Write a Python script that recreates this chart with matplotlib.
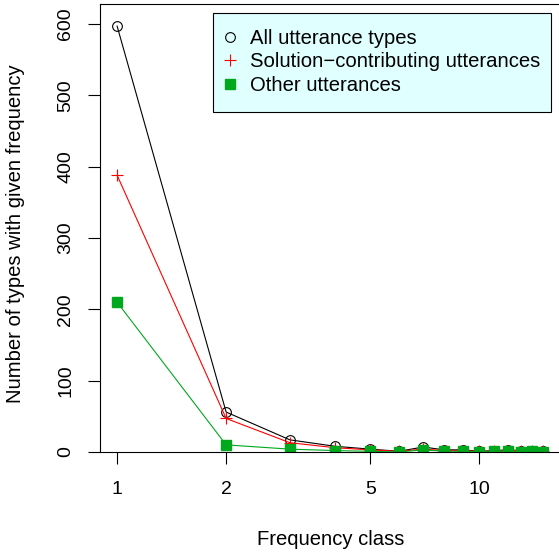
import matplotlib
matplotlib.use('Agg')
from matplotlib import pyplot as plt
from matplotlib.patches import Rectangle

plt.rcParams['font.family'] = ['Liberation Sans', 'DejaVu Sans']

freq_class = [1, 2, 3, 4, 5, 6, 7, 8, 9, 10, 11, 12, 13, 14, 15]
all_types = [597, 56, 17, 8, 4, 1, 7, 3, 3, 1, 2, 3, 2, 2, 1]
solution_contrib = [388, 47, 13, 6, 3, 1, 4, 2, 2, 1, 1, 2, 2, 1, 1]
other_utt = [210, 10, 4, 2, 1, 0, 3, 1, 1, 0, 1, 1, 0, 1, 0]

x_ticks = [1, 2, 5, 10]
y_ticks = [0, 100, 200, 300, 400, 500, 600]

W, H = 559, 552
fig = plt.figure(figsize=(W / 100, H / 100), dpi=100)
ax = fig.add_axes([100 / W, 100 / H, 470 / W, 448 / H])

green = '#00A81E'
ax.plot(freq_class, all_types, color='black', lw=0.8, marker='o', ms=7,
        mfc='none', mec='black', mew=0.8, label='All utterance types')
ax.plot(freq_class, solution_contrib, color='red', lw=0.8, marker='+', ms=9,
        mew=0.8, label='Solution\u2212contributing utterances')
ax.plot(freq_class, other_utt, color=green, lw=0.8, marker='s', ms=7,
        mfc=green, mec=green, label='Other utterances')

ax.set_xscale('log')
ax.set_xlim(0.897, 17.8)
ax.set_ylim(0, 628)
ax.set_xticks(x_ticks)
ax.set_xticklabels([str(t) for t in x_ticks])
ax.minorticks_off()
ax.set_yticks(y_ticks)
ax.set_yticklabels([str(t) for t in y_ticks], rotation=90, va='center')
ax.tick_params(direction='out', length=8.6, width=0.8, labelsize=14)
ax.tick_params(axis='x', pad=12)
ax.tick_params(axis='y', pad=10)
for s in ax.spines.values():
    s.set_linewidth(0.8)

# axis titles placed in pixel terms
fig.text(331 / W, 1 - 545 / H, 'Frequency class', fontsize=14.6,
         ha='center', va='baseline')
fig.text(16 / W, 1 - 234 / H, 'Number of types with given frequency',
         fontsize=14.6, rotation=90, ha='center', va='center')

# legend box (drawn separately so the padding can differ per side)
fig.patches.append(Rectangle((213 / W, 1 - 112 / H), 338 / W, 99 / H,
                             transform=fig.transFigure, facecolor='#E0FFFF',
                             edgecolor='black', lw=0.8, zorder=4))
leg = fig.legend(*ax.get_legend_handles_labels(), loc='upper left',
                 bbox_to_anchor=(220 / W, 1 - 29 / H),
                 fontsize=14.6, frameon=False,
                 handlelength=1.0, handletextpad=0.48, borderpad=0,
                 labelspacing=0.22, borderaxespad=0)
leg.set_zorder(5)
for h in leg.legend_handles:
    h.set_linestyle('none')

plt.savefig('out.png', dpi=100)
